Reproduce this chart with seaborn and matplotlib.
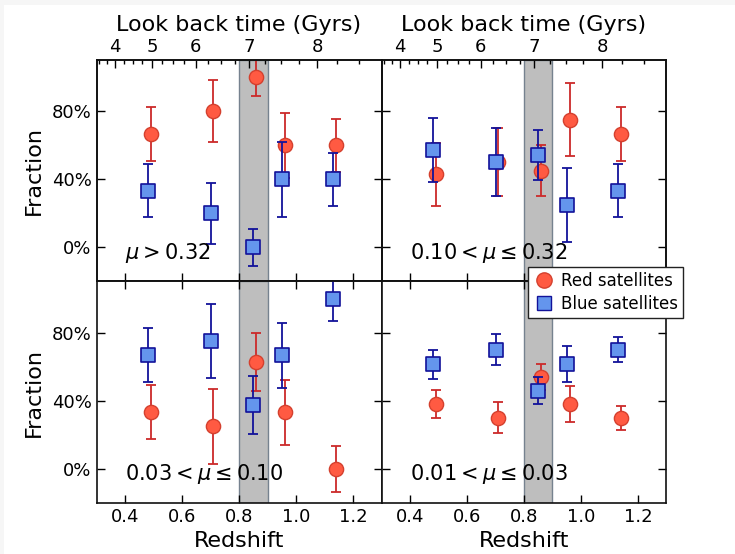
import numpy as np
import matplotlib
matplotlib.use("Agg")
import matplotlib.pyplot as plt
from matplotlib.lines import Line2D
from matplotlib.patches import Rectangle
import pandas as pd
import seaborn as sns

# ---------------- data ----------------
z_red = [0.49, 0.71, 0.86, 0.96, 1.14]
z_blue = [0.48, 0.70, 0.85, 0.95, 1.13]

panel_labels = [r"$\mu>$0.32", r"0.10$<\mu\leq$0.32",
                r"0.03$<\mu\leq$0.10", r"0.01$<\mu\leq$0.03"]

red_frac = [
    [0.667, 0.80, 1.00, 0.60, 0.60],
    [0.43, 0.50, 0.45, 0.75, 0.667],
    [0.333, 0.25, 0.625, 0.333, 0.0],
    [0.38, 0.30, 0.54, 0.38, 0.30],
]
red_err = [
    [0.16, 0.18, 0.11, 0.19, 0.155],
    [0.185, 0.20, 0.15, 0.215, 0.157],
    [0.157, 0.22, 0.17, 0.19, 0.133],
    [0.083, 0.09, 0.077, 0.106, 0.072],
]
blue_frac = [
    [0.333, 0.20, 0.0, 0.40, 0.40],
    [0.57, 0.50, 0.545, 0.25, 0.333],
    [0.667, 0.75, 0.375, 0.667, 1.0],
    [0.615, 0.70, 0.46, 0.615, 0.70],
]
blue_err = [
    [0.157, 0.18, 0.108, 0.22, 0.155],
    [0.187, 0.20, 0.147, 0.216, 0.157],
    [0.158, 0.217, 0.17, 0.19, 0.134],
    [0.085, 0.09, 0.077, 0.107, 0.072],
]

x_ticks = [0.4, 0.6, 0.8, 1.0, 1.2]
x_ticklabels = ["0.4", "0.6", "0.8", "1.0", "1.2"]
y_ticks = [0.0, 0.4, 0.8]
y_ticklabels = ["0%", "40%", "80%"]
lookback_ticks = [4, 5, 6, 7, 8]
lookback_minor = list(np.arange(3.5, 8.76, 0.25))
band = (0.8, 0.9)

# ---------------- style ----------------
sns.set_style("ticks")
plt.rcParams["font.family"] = ["DejaVu Sans"]
plt.rcParams["mathtext.fontset"] = "dejavusans"
for key in ["text.color", "axes.labelcolor", "xtick.color", "ytick.color",
            "axes.edgecolor"]:
    plt.rcParams[key] = "black"

RED_FILL, RED_EDGE, RED_BAR = "#ff5a42", "#d4402e", "#cc2a2a"
BLUE_FILL, BLUE_EDGE, BLUE_BAR = "#6495ed", "#12129a", "#12129a"

# lookback time (flat LCDM, H0=70, Om=0.3) -> redshift mapping for top axis
zg = np.linspace(0, 3, 3001)
Ez = np.sqrt(0.3 * (1 + zg) ** 3 + 0.7)
integrand = 1.0 / ((1 + zg) * Ez)
tH = 977.8 / 70.0
tl = tH * np.concatenate([[0], np.cumsum(0.5 * (integrand[1:] + integrand[:-1]) * np.diff(zg))])


def t_to_z(t):
    return np.interp(t, tl, zg)


fig = plt.figure(figsize=(7.35, 5.54), dpi=100, facecolor="#f6f6f6")
fig.patches.append(Rectangle((4 / 735, 0), 1, 1 - 5 / 554, transform=fig.transFigure,
                             facecolor="white", edgecolor="none", zorder=-10))
axes = fig.subplots(2, 2, sharex=True, sharey=True)
fig.subplots_adjust(left=0.1313, right=0.9068, bottom=0.0921, top=0.8917,
                    wspace=0, hspace=0)

for i, ax in enumerate(axes.flat):
    ax.set_facecolor("white")
    ax.axvspan(band[0], band[1], facecolor="#bebebe", edgecolor="#76828f", lw=1.0, zorder=0)

    ax.errorbar(z_red, red_frac[i], yerr=red_err[i], fmt="none", ecolor=RED_BAR,
                elinewidth=1.3, capsize=3.5, capthick=1.3, zorder=2)
    df_r = pd.DataFrame({"z": z_red, "f": red_frac[i]})
    sns.scatterplot(data=df_r, x="z", y="f", ax=ax, marker="o", s=105,
                    color=RED_FILL, edgecolor=RED_EDGE, linewidth=1.0, zorder=3, legend=False)

    ax.errorbar(z_blue, blue_frac[i], yerr=blue_err[i], fmt="none", ecolor=BLUE_BAR,
                elinewidth=1.3, capsize=3.5, capthick=1.3, zorder=4)
    df_b = pd.DataFrame({"z": z_blue, "f": blue_frac[i]})
    sns.scatterplot(data=df_b, x="z", y="f", ax=ax, marker="s", s=95,
                    color=BLUE_FILL, edgecolor=BLUE_EDGE, linewidth=1.2, zorder=5, legend=False)

    ax.text(0.4, -0.03, panel_labels[i], fontsize=15, ha="left", va="center", zorder=6)

    ax.set_xlim(0.3, 1.3)
    ax.set_ylim(-0.2, 1.1)
    ax.set_xticks(x_ticks)
    ax.set_yticks(y_ticks)
    ax.set_xlabel("")
    ax.set_ylabel("")
    row, col = divmod(i, 2)
    ax.tick_params(direction="in", length=6, width=1, labelsize=13, colors="black",
                   top=(row == 1), right=True, bottom=True, left=True,
                   labelbottom=(row == 1), labelleft=(col == 0))
    for sp in ax.spines.values():
        sp.set_linewidth(1.2)
        sp.set_color("#111111")
    if row == 1:
        ax.set_xticklabels(x_ticklabels)
        ax.set_xlabel("Redshift", fontsize=16, color="black")
    if col == 0:
        ax.set_yticklabels(y_ticklabels)
        ax.set_ylabel("Fraction", fontsize=16, color="black", labelpad=6)
    if row == 0:
        tw = ax.twiny()
        tw.set_xlim(0.3, 1.3)
        tw.set_xticks(t_to_z(np.array(lookback_ticks, dtype=float)))
        tw.set_xticklabels([str(t) for t in lookback_ticks])
        minor = [t_to_z(t) for t in lookback_minor if 0.3 < t_to_z(t) < 1.3]
        tw.set_xticks(minor, minor=True)
        tw.tick_params(direction="in", length=6, width=1, labelsize=13, pad=3, colors="black")
        tw.tick_params(which="minor", direction="in", length=3, width=1, colors="black")
        tw.set_xlabel("Look back time (Gyrs)", fontsize=16, labelpad=5, color="black")
        for sp in tw.spines.values():
            sp.set_linewidth(1.2)
            sp.set_color("#111111")

handles = [
    Line2D([], [], linestyle="none", marker="o", markersize=11,
           markerfacecolor=RED_FILL, markeredgecolor=RED_EDGE, label="Red satellites"),
    Line2D([], [], linestyle="none", marker="s", markersize=10,
           markerfacecolor=BLUE_FILL, markeredgecolor=BLUE_EDGE, label="Blue satellites"),
]
leg = fig.legend(handles=handles, loc="upper left", bbox_to_anchor=(528 / 735, 1 - 267 / 554),
                 fontsize=12, frameon=True, fancybox=False, framealpha=1,
                 edgecolor="#222222", borderpad=0.3, handletextpad=0.4,
                 labelspacing=0.3, borderaxespad=0, handlelength=1.3)
leg.get_frame().set_linewidth(1.0)
leg.set_zorder(20)
for t in leg.get_texts():
    t.set_color("black")

fig.savefig("out.png", dpi=100, facecolor=fig.get_facecolor())
